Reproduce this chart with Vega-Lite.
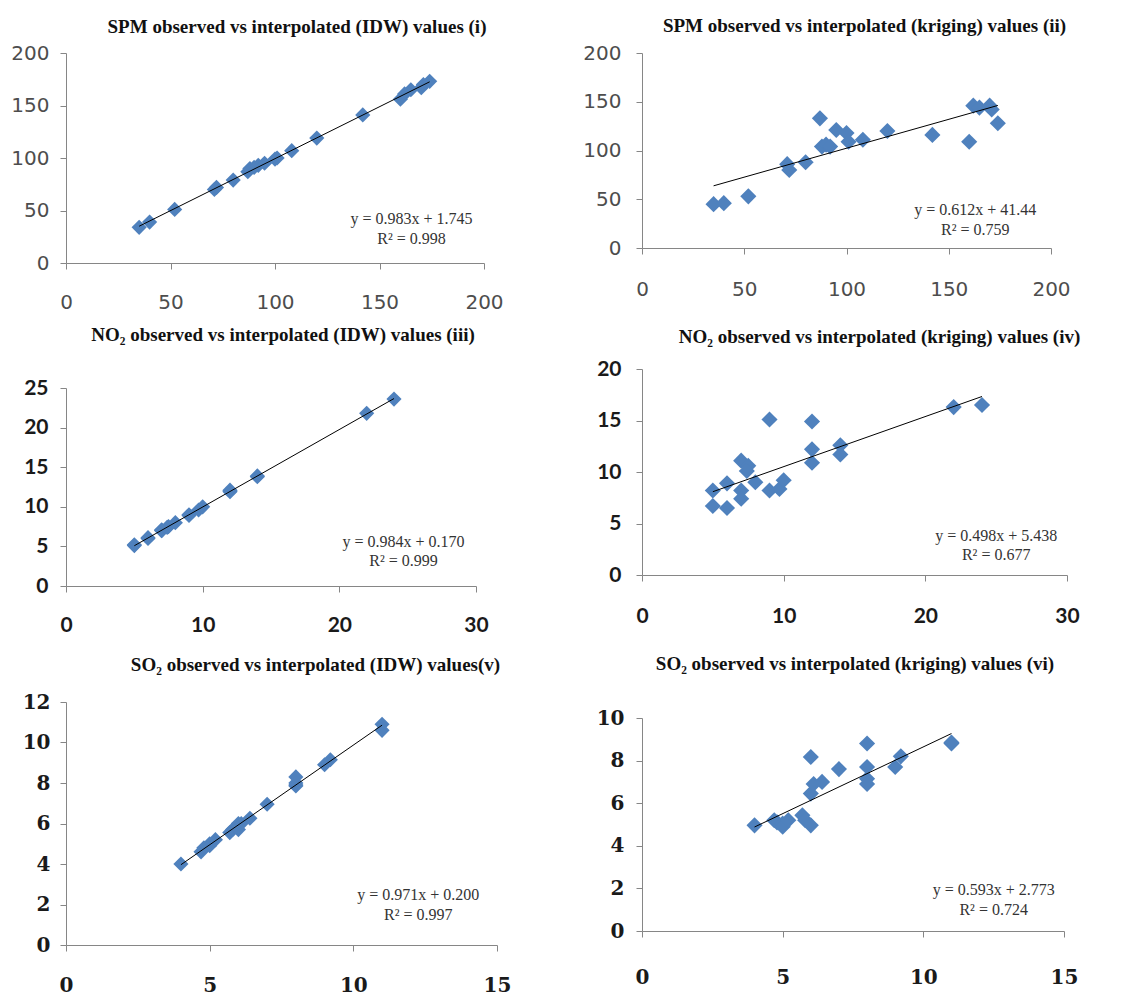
{
  "$schema": "https://vega.github.io/schema/vega-lite/v6.json",
  "padding": {"left": 10, "top": 17, "right": 5, "bottom": 0},
  "background": "white",
  "config": {
    "view": {"stroke": null},
    "axis": {"grid": false, "domainColor": "#868686", "tickColor": "#868686", "tickSize": 6, "labelFlush": false, "labelOverlap": false, "labelBound": false, "title": null},
    "title": {"font": "Liberation Serif", "fontSize": 19, "fontWeight": "bold", "color": "#111111", "anchor": "middle"}
  },
  "datasets": {
    "spm": [
      {"obs": 35, "idw": 34, "krig": 45},
      {"obs": 40, "idw": 39, "krig": 46},
      {"obs": 52, "idw": 51, "krig": 53},
      {"obs": 71, "idw": 70, "krig": 86},
      {"obs": 72, "idw": 72, "krig": 80},
      {"obs": 80, "idw": 79, "krig": 88},
      {"obs": 87, "idw": 87, "krig": 133},
      {"obs": 88, "idw": 90, "krig": 104},
      {"obs": 90, "idw": 91, "krig": 106},
      {"obs": 92, "idw": 93, "krig": 104},
      {"obs": 95, "idw": 95, "krig": 121},
      {"obs": 100, "idw": 99, "krig": 118},
      {"obs": 101, "idw": 100, "krig": 109},
      {"obs": 108, "idw": 107, "krig": 111},
      {"obs": 120, "idw": 119, "krig": 120},
      {"obs": 142, "idw": 141, "krig": 116},
      {"obs": 160, "idw": 156, "krig": 109},
      {"obs": 162, "idw": 161, "krig": 146},
      {"obs": 165, "idw": 165, "krig": 144},
      {"obs": 170, "idw": 167, "krig": 146},
      {"obs": 171, "idw": 170, "krig": 142},
      {"obs": 174, "idw": 173, "krig": 128}
    ],
    "no2": [
      {"obs": 5, "idw": 5.1, "krig": 8.2},
      {"obs": 5, "idw": 5.2, "krig": 6.7},
      {"obs": 6, "idw": 6.0, "krig": 8.9},
      {"obs": 6, "idw": 6.1, "krig": 6.5},
      {"obs": 7, "idw": 7.0, "krig": 11.1},
      {"obs": 7, "idw": 7.1, "krig": 8.2},
      {"obs": 7, "idw": 7.0, "krig": 7.4},
      {"obs": 7.5, "idw": 7.5, "krig": 10.6},
      {"obs": 7.4, "idw": 7.4, "krig": 10.1},
      {"obs": 8, "idw": 8.0, "krig": 9.0},
      {"obs": 9, "idw": 9.0, "krig": 15.1},
      {"obs": 9, "idw": 8.9, "krig": 8.2},
      {"obs": 9.7, "idw": 9.6, "krig": 8.35},
      {"obs": 10, "idw": 10.0, "krig": 9.2},
      {"obs": 12, "idw": 12.0, "krig": 14.9},
      {"obs": 12, "idw": 12.1, "krig": 12.2},
      {"obs": 12, "idw": 11.9, "krig": 10.9},
      {"obs": 14, "idw": 13.9, "krig": 12.6},
      {"obs": 14, "idw": 13.8, "krig": 11.7},
      {"obs": 22, "idw": 21.8, "krig": 16.3},
      {"obs": 24, "idw": 23.6, "krig": 16.5}
    ],
    "so2": [
      {"obs": 4.0, "idw": 4.0, "krig": 4.96},
      {"obs": 4.7, "idw": 4.6, "krig": 5.2},
      {"obs": 4.8, "idw": 4.8, "krig": 5.1},
      {"obs": 5.0, "idw": 5.0, "krig": 5.04},
      {"obs": 5.0, "idw": 4.9, "krig": 4.9},
      {"obs": 5.2, "idw": 5.2, "krig": 5.2},
      {"obs": 5.7, "idw": 5.55, "krig": 5.43},
      {"obs": 5.8, "idw": 5.7, "krig": 5.2},
      {"obs": 6.0, "idw": 5.7, "krig": 4.96},
      {"obs": 6.0, "idw": 5.9, "krig": 8.17},
      {"obs": 6.0, "idw": 6.0, "krig": 6.45},
      {"obs": 6.1, "idw": 6.0, "krig": 6.9},
      {"obs": 6.4, "idw": 6.26, "krig": 7.0},
      {"obs": 7.0, "idw": 6.95, "krig": 7.6},
      {"obs": 8.0, "idw": 8.3, "krig": 8.8},
      {"obs": 8.0, "idw": 7.85, "krig": 7.7},
      {"obs": 8.0, "idw": 7.9, "krig": 7.15},
      {"obs": 8.0, "idw": 8.0, "krig": 6.9},
      {"obs": 9.0, "idw": 8.9, "krig": 7.7},
      {"obs": 9.2, "idw": 9.15, "krig": 8.2},
      {"obs": 11.0, "idw": 10.9, "krig": 8.8},
      {"obs": 11.0, "idw": 10.6, "krig": 8.85}
    ]
  },
  "hconcat": [
    {
      "vconcat": [
        {
          "vconcat": [
            {
              "width": 418, "height": 210,
              "title": {"text": "SPM observed vs interpolated (IDW) values (i)", "dx": 22, "offset": 6},
              "layer": [
                {
                  "data": {"name": "spm"},
                  "mark": {"type": "point", "shape": "diamond", "filled": true, "size": 230, "color": "#4F81BD", "opacity": 1},
                  "encoding": {
                    "x": {"field": "obs", "type": "quantitative", "scale": {"domain": [0, 200], "nice": false}, "axis": {"values": [0, 50, 100, 150, 200], "labelFont": "DejaVu Sans", "labelFontSize": 20, "labelColor": "#4d4d4d", "labelPadding": 23, "labelOverlap": false}},
                    "y": {"field": "idw", "type": "quantitative", "scale": {"domain": [0, 200], "nice": false}, "axis": {"values": [0, 50, 100, 150, 200], "labelFont": "DejaVu Sans", "labelFontSize": 20, "labelColor": "#4d4d4d", "labelPadding": 11, "labelOverlap": false}}
                  }
                },
                {
                  "data": {"name": "spm"},
                  "transform": [{"regression": "idw", "on": "obs"}],
                  "mark": {"type": "line", "color": "#000000", "strokeWidth": 1},
                  "encoding": {"x": {"field": "obs", "type": "quantitative"}, "y": {"field": "idw", "type": "quantitative"}}
                },
                {
                  "data": {"values": [{"x": 165.3, "y": 41.7, "label": "y = 0.983x + 1.745"}, {"x": 165.3, "y": 22.6, "label": "R² = 0.998"}]},
                  "mark": {"type": "text", "font": "Liberation Serif", "fontSize": 16, "color": "#333333", "align": "center", "baseline": "middle"},
                  "encoding": {"x": {"field": "x", "type": "quantitative"}, "y": {"field": "y", "type": "quantitative"}, "text": {"field": "label"}}
                }
              ]
            },
            {
              "width": 410, "height": 198,
              "title": {"text": "NO₂ observed vs  interpolated (IDW) values (iii)", "dx": 12, "offset": 32},
              "layer": [
                {
                  "data": {"name": "no2"},
                  "mark": {"type": "point", "shape": "diamond", "filled": true, "size": 230, "color": "#4F81BD", "opacity": 1},
                  "encoding": {
                    "x": {"field": "obs", "type": "quantitative", "scale": {"domain": [0, 30], "nice": false}, "axis": {"values": [0, 10, 20, 30], "labelFont": "Lato", "labelFontSize": 21, "labelFontWeight": "bold", "labelColor": "#1a1a1a", "labelPadding": 22, "labelOverlap": false}},
                    "y": {"field": "idw", "type": "quantitative", "scale": {"domain": [0, 25], "nice": false}, "axis": {"tickCount": 5, "labelFont": "Lato", "labelFontSize": 21, "labelFontWeight": "bold", "labelColor": "#1a1a1a", "labelPadding": 12, "labelOverlap": false, "labelSeparation": 0}}
                  }
                },
                {
                  "data": {"name": "no2"},
                  "transform": [{"regression": "idw", "on": "obs"}],
                  "mark": {"type": "line", "color": "#000000", "strokeWidth": 1},
                  "encoding": {"x": {"field": "obs", "type": "quantitative"}, "y": {"field": "idw", "type": "quantitative"}}
                },
                {
                  "data": {"values": [{"x": 24.7, "y": 5.6, "label": "y = 0.984x + 0.170"}, {"x": 24.7, "y": 3.2, "label": "R² = 0.999"}]},
                  "mark": {"type": "text", "font": "Liberation Serif", "fontSize": 16, "color": "#333333", "align": "center", "baseline": "middle"},
                  "encoding": {"x": {"field": "x", "type": "quantitative"}, "y": {"field": "y", "type": "quantitative"}, "text": {"field": "label"}}
                }
              ]
            }
          ],
          "spacing": 14
        },
        {
          "width": 431, "height": 243,
          "title": {"text": "SO₂ observed vs interpolated (IDW) values(v)", "dx": 34, "offset": 17},
          "layer": [
            {
              "data": {"name": "so2"},
              "mark": {"type": "point", "shape": "diamond", "filled": true, "size": 230, "color": "#4F81BD", "opacity": 1},
              "encoding": {
                "x": {"field": "obs", "type": "quantitative", "scale": {"domain": [0, 15], "nice": false}, "axis": {"values": [0, 5, 10, 15], "labelFont": "DejaVu Serif", "labelFontSize": 20, "labelFontWeight": "bold", "labelColor": "#1a1a1a", "labelPadding": 24, "labelOverlap": false}},
                "y": {"field": "idw", "type": "quantitative", "scale": {"domain": [0, 12], "nice": false}, "axis": {"values": [0, 2, 4, 6, 8, 10, 12], "labelFont": "DejaVu Serif", "labelFontSize": 20, "labelFontWeight": "bold", "labelColor": "#1a1a1a", "labelPadding": 10, "labelOverlap": false}}
              }
            },
            {
              "data": {"name": "so2"},
              "transform": [{"regression": "idw", "on": "obs"}],
              "mark": {"type": "line", "color": "#000000", "strokeWidth": 1},
              "encoding": {"x": {"field": "obs", "type": "quantitative"}, "y": {"field": "idw", "type": "quantitative"}}
            },
            {
              "data": {"values": [{"x": 12.26, "y": 2.47, "label": "y = 0.971x + 0.200"}, {"x": 12.26, "y": 1.48, "label": "R² = 0.997"}]},
              "mark": {"type": "text", "font": "Liberation Serif", "fontSize": 16, "color": "#333333", "align": "center", "baseline": "middle"},
              "encoding": {"x": {"field": "x", "type": "quantitative"}, "y": {"field": "y", "type": "quantitative"}, "text": {"field": "label"}}
            }
          ]
        }
      ],
      "spacing": 21
    },
    {
      "vconcat": [
        {
          "width": 409, "height": 195,
          "title": {"text": "SPM observed vs interpolated (kriging) values (ii)", "dx": 18, "offset": 7},
          "layer": [
            {
              "data": {"name": "spm"},
              "mark": {"type": "point", "shape": "diamond", "filled": true, "size": 260, "color": "#4F81BD", "opacity": 1},
              "encoding": {
                "x": {"field": "obs", "type": "quantitative", "scale": {"domain": [0, 200], "nice": false}, "axis": {"values": [0, 50, 100, 150, 200], "labelFont": "DejaVu Sans", "labelFontSize": 20, "labelColor": "#4d4d4d", "labelPadding": 25, "labelOverlap": false}},
                "y": {"field": "krig", "type": "quantitative", "scale": {"domain": [0, 200], "nice": false}, "axis": {"values": [0, 50, 100, 150, 200], "labelFont": "DejaVu Sans", "labelFontSize": 20, "labelColor": "#4d4d4d", "labelPadding": 15, "labelOverlap": false}}
              }
            },
            {
              "data": {"name": "spm"},
              "transform": [{"regression": "krig", "on": "obs"}],
              "mark": {"type": "line", "color": "#000000", "strokeWidth": 1},
              "encoding": {"x": {"field": "obs", "type": "quantitative"}, "y": {"field": "krig", "type": "quantitative"}}
            },
            {
              "data": {"values": [{"x": 163, "y": 38.6, "label": "y = 0.612x + 41.44"}, {"x": 163, "y": 18.8, "label": "R² = 0.759"}]},
              "mark": {"type": "text", "font": "Liberation Serif", "fontSize": 16, "color": "#333333", "align": "center", "baseline": "middle"},
              "encoding": {"x": {"field": "x", "type": "quantitative"}, "y": {"field": "y", "type": "quantitative"}, "text": {"field": "label"}}
            }
          ]
        },
        {
          "width": 425, "height": 206,
          "title": {"text": "NO₂  observed vs interpolated (kriging) values (iv)", "dx": 25, "offset": 11},
          "layer": [
            {
              "data": {"name": "no2"},
              "mark": {"type": "point", "shape": "diamond", "filled": true, "size": 260, "color": "#4F81BD", "opacity": 1},
              "encoding": {
                "x": {"field": "obs", "type": "quantitative", "scale": {"domain": [0, 30], "nice": false}, "axis": {"values": [0, 10, 20, 30], "labelFont": "Lato", "labelFontSize": 21, "labelFontWeight": "bold", "labelColor": "#1a1a1a", "labelPadding": 24, "labelOverlap": false}},
                "y": {"field": "krig", "type": "quantitative", "scale": {"domain": [0, 20], "nice": false}, "axis": {"values": [0, 5, 10, 15, 20], "labelFont": "Lato", "labelFontSize": 21, "labelFontWeight": "bold", "labelColor": "#1a1a1a", "labelPadding": 15, "labelOverlap": false}}
              }
            },
            {
              "data": {"name": "no2"},
              "transform": [{"regression": "krig", "on": "obs"}],
              "mark": {"type": "line", "color": "#000000", "strokeWidth": 1},
              "encoding": {"x": {"field": "obs", "type": "quantitative"}, "y": {"field": "krig", "type": "quantitative"}}
            },
            {
              "data": {"values": [{"x": 25.0, "y": 3.8, "label": "y = 0.498x + 5.438"}, {"x": 25.0, "y": 1.9, "label": "R² = 0.677"}]},
              "mark": {"type": "text", "font": "Liberation Serif", "fontSize": 16, "color": "#333333", "align": "center", "baseline": "middle"},
              "encoding": {"x": {"field": "x", "type": "quantitative"}, "y": {"field": "y", "type": "quantitative"}, "text": {"field": "label"}}
            }
          ]
        },
        {
          "width": 422, "height": 213,
          "title": {"text": "SO₂ observed vs interpolated (kriging) values (vi)", "dx": 2, "offset": 34},
          "layer": [
            {
              "data": {"name": "so2"},
              "mark": {"type": "point", "shape": "diamond", "filled": true, "size": 260, "color": "#4F81BD", "opacity": 1},
              "encoding": {
                "x": {"field": "obs", "type": "quantitative", "scale": {"domain": [0, 15], "nice": false}, "axis": {"values": [0, 5, 10, 15], "labelFont": "DejaVu Serif", "labelFontSize": 20, "labelFontWeight": "bold", "labelColor": "#1a1a1a", "labelPadding": 30, "labelOverlap": false}},
                "y": {"field": "krig", "type": "quantitative", "scale": {"domain": [0, 10], "nice": false}, "axis": {"values": [0, 2, 4, 6, 8, 10], "labelFont": "DejaVu Serif", "labelFontSize": 20, "labelFontWeight": "bold", "labelColor": "#1a1a1a", "labelPadding": 12, "labelOverlap": false}}
              }
            },
            {
              "data": {"name": "so2"},
              "transform": [{"regression": "krig", "on": "obs"}],
              "mark": {"type": "line", "color": "#000000", "strokeWidth": 1},
              "encoding": {"x": {"field": "obs", "type": "quantitative"}, "y": {"field": "krig", "type": "quantitative"}}
            },
            {
              "data": {"values": [{"x": 12.5, "y": 1.94, "label": "y = 0.593x + 2.773"}, {"x": 12.5, "y": 0.97, "label": "R² = 0.724"}]},
              "mark": {"type": "text", "font": "Liberation Serif", "fontSize": 16, "color": "#333333", "align": "center", "baseline": "middle"},
              "encoding": {"x": {"field": "x", "type": "quantitative"}, "y": {"field": "y", "type": "quantitative"}, "text": {"field": "label"}}
            }
          ]
        }
      ],
      "spacing": 29
    }
  ],
  "spacing": 71
}
